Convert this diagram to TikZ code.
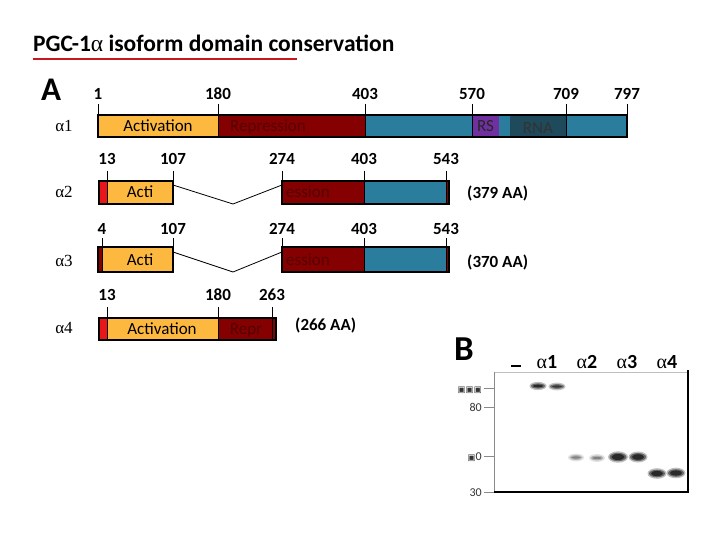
\documentclass[tikz,border=0pt]{standalone}
\usepackage{fontspec}
\setmainfont{Carlito}
\newfontfamily\grkfont{Liberation Serif}
\newfontfamily\boxfont{DejaVu Sans}
\usetikzlibrary{positioning}

\definecolor{actcol}{HTML}{FDB93F}
\definecolor{repcol}{HTML}{850000}
\definecolor{reptxt}{HTML}{560000}
\definecolor{tealcol}{HTML}{2A7D9D}
\definecolor{rscol}{HTML}{7030A0}
\definecolor{rnacol}{HTML}{1E4A5B}
\definecolor{ntcol}{HTML}{E8161B}
\definecolor{ulcol}{HTML}{C8161E}
\definecolor{gelgray}{HTML}{8A8A8A}

\tikzset{
  barline/.style={draw=black, line width=1.3pt},
  tickline/.style={draw=black, line width=1pt},
  ticknum/.style={font=\fontsize{17}{17}\selectfont\bfseries, anchor=base, inner sep=0pt},
  isolbl/.style={font=\grkfont\fontsize{17}{17}\selectfont, anchor=base, inner sep=0pt},
  aalbl/.style={font=\fontsize{17}{17}\selectfont\bfseries, anchor=base west, inner sep=0pt},
  domtxt/.style={font=\fontsize{17}{17}\selectfont, anchor=base, inner sep=0pt},
  splice/.style={draw=black, line width=0.8pt},
  mwlbl/.style={font=\fontsize{12}{12}\selectfont, text=black!80, anchor=base east, inner sep=0pt},
  lanelbl/.style={font=\fontsize{20}{20}\selectfont\bfseries, anchor=base, inner sep=0pt},
}

\newcommand{\gelband}[5]{% x, y, half width, half height, darkness
  \fill[black, opacity=0.25*#5] (#1,#2) ellipse ({#3+1.5} and {#4+1.5});
  \fill[black, opacity=0.45*#5] (#1,#2) ellipse ({#3} and {#4});
  \fill[black, opacity=0.6*#5]  (#1,#2) ellipse ({#3-2} and {#4-1.2});
}

\begin{document}
\begin{tikzpicture}[x=1pt, y=-1pt]
  \useasboundingbox[fill=white] (0,0) rectangle (720,540);

  % Title
  \node[font=\fontsize{23.5}{23.5}\selectfont\bfseries, anchor=base west, inner sep=0pt] (title) at (33,52)
    {PGC-1{\grkfont\mdseries α} isoform domain conservation};
  \draw[ulcol, line width=2pt] (33,59.5) -- (297,59.5);
  \node[font=\fontsize{33}{33}\selectfont\bfseries, anchor=base west, inner sep=0pt] (panelA) at (41,101) {A};

  % alpha1, full length
  \fill[actcol]  (98,115)  rectangle (218,137);
  \fill[repcol]  (218,115) rectangle (365,137);
  \fill[tealcol] (365,115) rectangle (627,137);
  \fill[rscol]   (472,115) rectangle (499,137);
  \fill[rnacol]  (510,115) rectangle (566,137);
  \draw[barline] (98,115)  rectangle (627,137);
  \foreach \x/\n in {98/1, 218/180, 365/403, 472/570, 566/709, 627/797} {
    \draw[tickline] (\x,104) -- (\x,137);
    \node[ticknum] at (\x,100) {\n};
  }
  \node[isolbl]  (iso1) at (64,132)  {α1};
  \node[domtxt]  (act1) at (158,132) {Activation};
  \node[domtxt, text=reptxt] (rep1) at (268,132) {Repression};
  \node[domtxt, text=black!85] (rs1)  at (485.5,132) {RS};
  \node[domtxt, text=black!80] (rna1) at (538,134)   {RNA};

  % alpha2
  \fill[ntcol]   (99,181)  rectangle (107,204);
  \fill[actcol]  (107,181) rectangle (173,204);
  \fill[repcol]  (282,181) rectangle (364,204);
  \fill[tealcol] (364,181) rectangle (446,204);
  \fill[repcol]  (446,181) rectangle (449,204);
  \draw[barline] (99,181)  rectangle (173,204);
  \draw[barline] (282,181) rectangle (449,204);
  \foreach \x/\n in {107/13, 173/107, 282/274, 364/403, 446/543} {
    \draw[tickline] (\x,171) -- (\x,204);
    \node[ticknum] at (\x,165) {\n};
  }
  \coordinate (a2acti) at (173,185);
  \coordinate (a2dip)  at (233,204);
  \coordinate (a2rep)  at (282,185);
  \draw[splice] (a2acti) -- (a2dip) -- (a2rep);
  \node[isolbl]  (iso2) at (64,198)  {α2};
  \node[domtxt]  (act2) at (140,198) {Acti};
  \node[domtxt, text=reptxt, anchor=base west] (rep2) at (286,198) {ession};
  \node[aalbl]   (len2) at (467,199) {(379 AA)};

  % alpha3
  \fill[repcol]  (98,247)  rectangle (102,272);
  \fill[actcol]  (102,247) rectangle (173,272);
  \fill[repcol]  (282,247) rectangle (364,272);
  \fill[tealcol] (364,247) rectangle (446,272);
  \fill[repcol]  (446,247) rectangle (449,272);
  \draw[barline] (98,247)  rectangle (173,272);
  \draw[barline] (282,247) rectangle (449,272);
  \foreach \x/\n in {102/4, 173/107, 282/274, 364/403, 446/543} {
    \draw[tickline] (\x,238) -- (\x,272);
    \node[ticknum] at (\x,234) {\n};
  }
  \coordinate (a3acti) at (173,252);
  \coordinate (a3dip)  at (233,272);
  \coordinate (a3rep)  at (282,252);
  \draw[splice] (a3acti) -- (a3dip) -- (a3rep);
  \node[isolbl]  (iso3) at (64,266)  {α3};
  \node[domtxt]  (act3) at (140,265) {Acti};
  \node[domtxt, text=reptxt, anchor=base west] (rep3) at (286,265) {ession};
  \node[aalbl]   (len3) at (467,267) {(370 AA)};

  % alpha4
  \fill[ntcol]   (99,318)  rectangle (107,340);
  \fill[actcol]  (107,318) rectangle (218,340);
  \fill[repcol]  (218,318) rectangle (276,340);
  \draw[barline] (99,318)  rectangle (276,340);
  \foreach \x/\n in {107/13, 218/180, 272/263} {
    \draw[tickline] (\x,307) -- (\x,340);
    \node[ticknum] at (\x,300) {\n};
  }
  \node[isolbl]  (iso4) at (64,333)  {α4};
  \node[domtxt]  (act4) at (162,334) {Activation};
  \node[domtxt, text=reptxt] (rep4) at (246,334) {Repr};
  \node[aalbl]   (len4) at (295,330) {(266 AA)};

  % Panel B, western blot
  \node[font=\fontsize{35}{35}\selectfont\bfseries, anchor=base west, inner sep=0pt] (panelB) at (454,360) {B};
  \draw[line width=1.6pt] (511,366) -- (521,366);
  \foreach \x/\n in {547/1, 587/2, 627/3, 667/4}
    \node[lanelbl] at (\x,368) {{\grkfont\mdseries α}\n};

  \draw[black!25, line width=0.8pt] (494,372) -- (688,372);
  \draw[gelgray, line width=0.9pt]  (494,372) -- (494,492);
  \draw[black, line width=1.2pt]    (494,492) -- (688,492);
  \draw[black, line width=2pt]      (688,370) -- (688,493);
  \foreach \y in {388, 407, 456, 492}
    \draw[gelgray, line width=0.9pt] (484,\y) -- (494,\y);
  \node[mwlbl, font=\boxfont\fontsize{8.5}{8.5}\selectfont] (mw1) at (482,392) {▣▣▣};
  \node[mwlbl] (mw2) at (482,411) {80};
  \node[mwlbl] (mw3) at (482,460) {{\boxfont\fontsize{8.5}{8.5}\selectfont ▣}0};
  \node[mwlbl] (mw4) at (482,496) {30};

  % bands
  \gelband{538}{386}{7}{2.6}{1.0}
  \gelband{557}{386.5}{7}{2.4}{0.9}
  \gelband{576}{457.5}{6.5}{2.4}{0.45}
  \gelband{597}{458}{6.5}{2.4}{0.45}
  \gelband{618}{457}{8.5}{4.2}{1.0}
  \gelband{638}{457}{8}{4}{1.0}
  \gelband{657}{473.5}{8}{3.8}{1.0}
  \gelband{676}{473}{8}{3.8}{1.0}
\end{tikzpicture}
\end{document}
